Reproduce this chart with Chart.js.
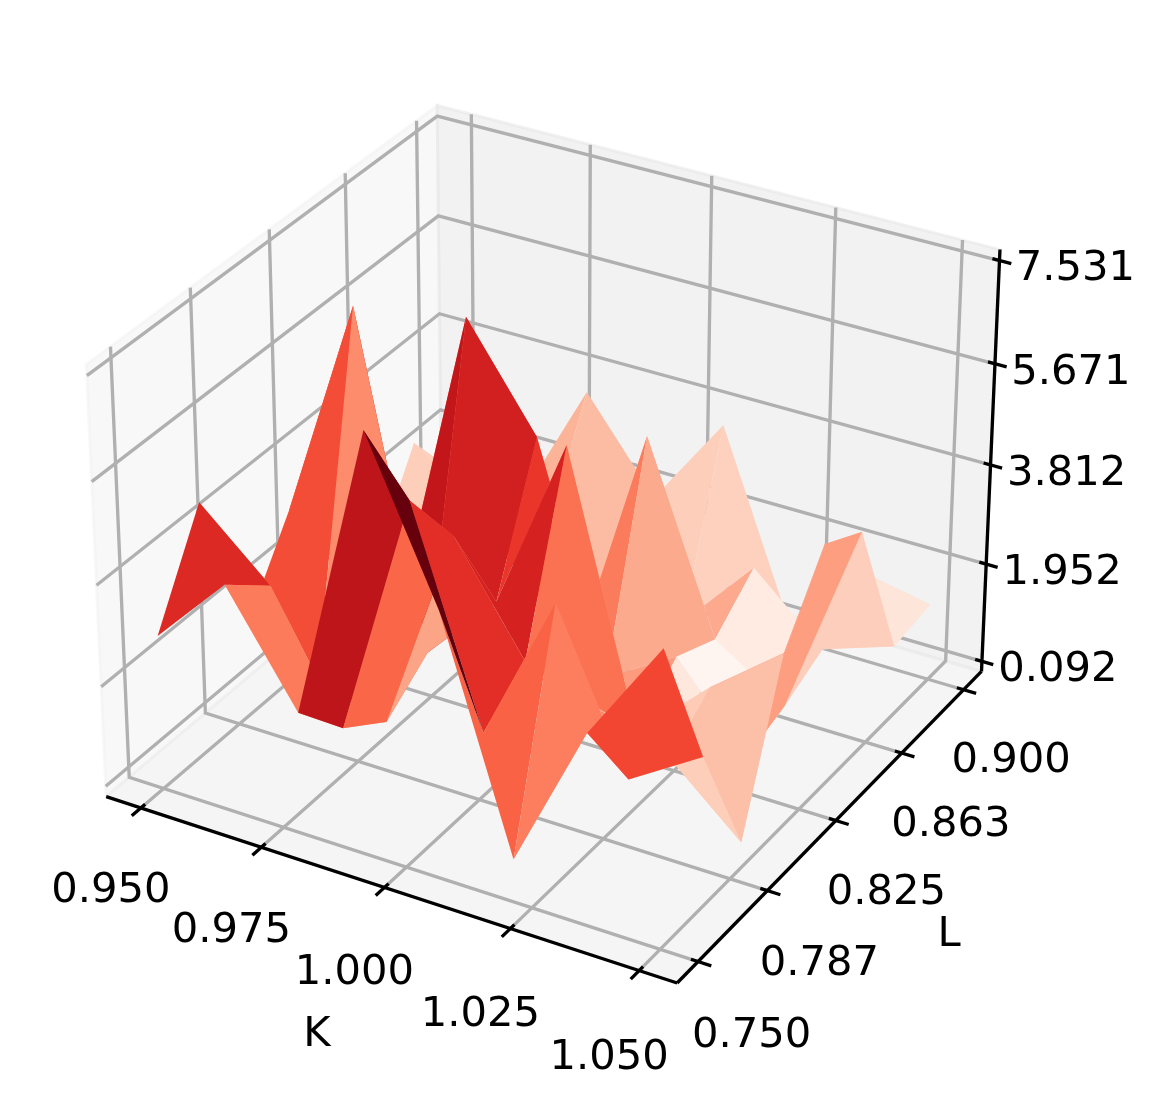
<!DOCTYPE html>
<html>
<head>
<meta charset="utf-8">
<style>html,body{margin:0;background:#fff}canvas{display:block}</style>
<script src="https://cdn.jsdelivr.net/npm/chart.js@4/dist/chart.umd.js"></script>
</head>
<body>
<canvas id="c" width="1168" height="1109"></canvas>
<script>
const kVals = [0.95, 0.9643, 0.9786, 0.9929, 1.0071, 1.0214, 1.0357, 1.05];
const lVals = [0.75, 0.7714, 0.7929, 0.8143, 0.8357, 0.8571, 0.8786, 0.9];
const zRow0 = [2.74, 4.52, 1.65, 3.09, 1.49, 0.84, 2.44, 1.25];
const zRow1 = [4.06, 3.38, 0.95, 7.17, 1.11, 1.45, 1.60, 1.08];
const zRow2 = [2.13, 1.14, 0.55, 1.17, 6.72, 1.60, 1.60, 3.51];
const zRow3 = [7.531, 5.67, 4.38, 2.52, 4.90, 0.26, 0.40, 1.86];
const zRow4 = [4.77, 1.87, 2.48, 5.74, 0.81, 4.65, 0.51, 3.60];
const zRow5 = [0.68, 4.61, 2.03, 0.89, 1.60, 1.24, 1.92, 0.20];
const zRow6 = [3.39, 1.84, 1.52, 2.11, 0.092, 0.37, 0.76, 1.59];
const zRow7 = [5.28, 2.66, 0.37, 3.14, 4.44, 4.01, 1.21, 1.33];
const zVals = [zRow0, zRow1, zRow2, zRow3, zRow4, zRow5, zRow6, zRow7];
const kTicks = ['0.950', '0.975', '1.000', '1.025', '1.050'];
const lTicks = ['0.750', '0.787', '0.825', '0.863', '0.900'];
const zTicks = ['0.092', '1.952', '3.812', '5.671', '7.531'];

// matplotlib's default 3d view: elev 30, azim -60, dist 10, box aspect 4:4:3
const SX = 5725, SY = 5750, OX = 551.6, OY = 524;
const U = [.8660254, .5, 0], V = [-.25, .4330127, .8660254], W = [.4330127, -.75, .5];
const BOX = [1.142857, 1.142857, .857143], DIST = 10;
const dot = (a, c) => a[0] * c[0] + a[1] * c[1] + a[2] * c[2];
function proj(b) {
    const p = [(b[0] - .5) * BOX[0], (b[1] - .5) * BOX[1], (b[2] - .5) * BOX[2]];
    const d = DIST - dot(W, p);
    return { x: dot(U, p) / d, y: dot(V, p) / d, d };
}
const M = .0636, MZ = .025;
const bx = k => M + (k - .95) / .1 * (1 - 2 * M);
const by = l => M + (l - .75) / .15 * (1 - 2 * M);
const bz = z => MZ + (z - .092) / 7.439 * (1 - 2 * MZ);
const pt = b => { const p = proj(b); return { x: p.x, y: p.y }; };

// Reds colormap
const REDS = ['#fff5f0', '#fee0d2', '#fcbba1', '#fc9272', '#fb6a4a', '#ef3b2c', '#cb181d', '#a50f15', '#67000d']
    .map(h => [1, 3, 5].map(i => parseInt(h.substr(i, 2), 16)));
function reds(t) {
    t = Math.min(1, Math.max(0, t)) * 8;
    const i = Math.min(7, Math.floor(t)), f = t - i;
    return 'rgb(' + [0, 1, 2].map(c => Math.round(REDS[i][c] + (REDS[i + 1][c] - REDS[i][c]) * f)).join(',') + ')';
}

const pane = (pts, color) => ({ data: pts.map(pt), showLine: true, fill: 'shape', backgroundColor: color, borderColor: color, borderWidth: 3, pointRadius: 0, tension: 0 });
const line = (pts, color) => ({ data: pts.map(pt), showLine: true, fill: false, borderColor: color, borderWidth: 3.33, pointRadius: 0, tension: 0 });

const ds = [];
// Panes
ds.push(pane([[0, 0, 0], [0, 1, 0], [0, 1, 1], [0, 0, 1], [0, 0, 0]], 'rgba(242,242,242,.5)'));
ds.push(pane([[0, 1, 0], [1, 1, 0], [1, 1, 1], [0, 1, 1], [0, 1, 0]], 'rgba(230,230,230,.5)'));
ds.push(pane([[0, 0, 0], [1, 0, 0], [1, 1, 0], [0, 1, 0], [0, 0, 0]], 'rgba(236,236,236,.5)'));
// Grid
const GRID = '#b0b0b0';
kTicks.forEach(t => { const x = bx(+t); ds.push(line([[x, 0, 0], [x, 1, 0], [x, 1, 1]], GRID)); });
lTicks.forEach(t => { const y = by(+t); ds.push(line([[1, y, 0], [0, y, 0], [0, y, 1]], GRID)); });
zTicks.forEach(t => { const z = bz(+t); ds.push(line([[0, 0, z], [0, 1, z], [1, 1, z]], GRID)); });
// Axis lines and ticks
ds.push(line([[0, 0, 0], [1, 0, 0]], '#000'));
ds.push(line([[1, 0, 0], [1, 1, 0]], '#000'));
ds.push(line([[1, 1, 0], [1, 1, 1]], '#000'));
kTicks.forEach(t => { const x = bx(+t); ds.push(line([[x, -.025, 0], [x, .012, 0]], '#000')); });
lTicks.forEach(t => { const y = by(+t); ds.push(line([[1.022, y, 0], [.988, y, 0]], '#000')); });
zTicks.forEach(t => { const z = bz(+t); ds.push(line([[1.02, 1, z], [.988, 1, z]], '#000')); });

// Surface, far quads first
const quads = [];
for (let i = 0; i < kVals.length - 1; i++) {
    for (let j = 0; j < lVals.length - 1; j++) {
        const c = [[i, j], [i, j + 1], [i + 1, j + 1], [i + 1, j]];
        const b = c.map(([a, e]) => [bx(kVals[a]), by(lVals[e]), bz(zVals[a][e])]);
        quads.push({
            b,
            mean: c.reduce((s, [a, e]) => s + zVals[a][e], 0) / 4,
            depth: b.reduce((s, q) => s + proj(q).d, 0) / 4
        });
    }
}
const lo = Math.min(...quads.map(q => q.mean)), hi = Math.max(...quads.map(q => q.mean));
quads.sort((a, b) => b.depth - a.depth).forEach(q => {
    ds.push({ data: [...q.b, q.b[0]].map(pt), showLine: true, fill: 'shape', backgroundColor: reds((q.mean - lo) / (hi - lo)), borderWidth: 0, pointRadius: 0, tension: 0 });
});
// Chart.js paints dataset 0 last
ds.reverse();

const labels = {
    id: 'labels',
    afterDraw(ch) {
        const c = ch.ctx, sx = ch.scales.x, sy = ch.scales.y;
        const put = (b, dx, dy, s) => {
            const p = pt(b);
            c.fillText(s, sx.getPixelForValue(p.x) + dx, sy.getPixelForValue(p.y) + dy);
        };
        c.save();
        c.font = '41.67px "DejaVu Sans"';
        c.fillStyle = '#000';
        c.textAlign = 'center';
        c.textBaseline = 'middle';
        kTicks.forEach((t, i) => put([bx(+t), 0, 0], -30, 83 + 1.2 * i, t));
        lTicks.forEach((t, i) => put([1, by(+t), 0], 53.5 - 1.5 * i, 75 - i, t));
        zTicks.forEach(t => put([1, 1, bz(+t)], 76, 9, t));
        c.fillText('K', 317, 1035);
        c.fillText('L', 949, 935);
        c.restore();
    }
};

new Chart(document.getElementById('c'), {
    type: 'scatter',
    data: { datasets: ds },
    plugins: [labels],
    options: {
        responsive: false,
        animation: false,
        events: [],
        layout: { padding: 0 },
        plugins: { legend: { display: false }, tooltip: { enabled: false } },
        scales: {
            x: { type: 'linear', display: false, min: -OX / SX, max: (1168 - OX) / SX },
            y: { type: 'linear', display: false, min: (OY - 1109) / SY, max: OY / SY }
        }
    }
});
</script>
</body>
</html>
